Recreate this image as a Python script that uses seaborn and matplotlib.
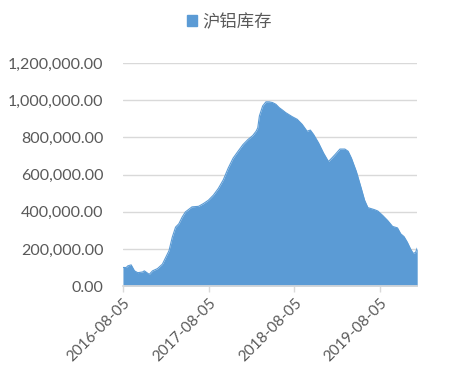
import pandas as pd
import matplotlib
matplotlib.use("Agg")
import matplotlib.pyplot as plt
from matplotlib.ticker import FuncFormatter, MultipleLocator
import seaborn as sns

dates = [
    "2016-08-05", "2016-08-19", "2016-08-26", "2016-09-09", "2016-09-23",
    "2016-10-07", "2016-10-28", "2016-11-04", "2016-11-25", "2016-12-09",
    "2016-12-30", "2017-01-20", "2017-02-03", "2017-02-17", "2017-03-03",
    "2017-03-17", "2017-03-31", "2017-04-14", "2017-04-28", "2017-05-26",
    "2017-06-23", "2017-07-14", "2017-08-04", "2017-08-25", "2017-09-15",
    "2017-10-06", "2017-10-27", "2017-11-17", "2017-12-08", "2017-12-29",
    "2018-01-19", "2018-02-09", "2018-02-23", "2018-03-02", "2018-03-09",
    "2018-03-23", "2018-04-06", "2018-04-20", "2018-05-04", "2018-05-18",
    "2018-06-01", "2018-06-15", "2018-06-29", "2018-07-27", "2018-08-17",
    "2018-09-07", "2018-09-28", "2018-10-12", "2018-10-26", "2018-11-16",
    "2018-12-07", "2018-12-28", "2019-01-11", "2019-01-25", "2019-02-15",
    "2019-03-08", "2019-03-22", "2019-04-05", "2019-04-26", "2019-05-17",
    "2019-05-31", "2019-06-14", "2019-07-12", "2019-07-26", "2019-08-16",
    "2019-09-06", "2019-09-27", "2019-10-18", "2019-11-01", "2019-11-15",
    "2019-11-29", "2019-12-13", "2019-12-24", "2020-01-03", "2020-01-10",
]
stock = [
    100000, 100000, 109000, 114000, 82000,
    72000, 76000, 82000, 63000, 82000,
    94000, 118000, 154000, 190000, 263000,
    317000, 335000, 371000, 399000, 426000,
    429000, 444000, 462000, 489000, 525000,
    571000, 634000, 688000, 725000, 761000,
    788000, 810000, 833000, 851000, 915000,
    969000, 991000, 991000, 987000, 978000,
    960000, 947000, 933000, 911000, 897000,
    870000, 833000, 839000, 815000, 770000,
    716000, 670000, 688000, 707000, 737000,
    737000, 725000, 688000, 616000, 525000,
    462000, 422000, 411000, 404000, 380000,
    353000, 321000, 313000, 281000, 266000,
    236000, 199000, 176000, 181000, 205000,
]
tick_dates = ["2016-08-05", "2017-08-05", "2018-08-05", "2019-08-05"]
series_name = "沪铝库存"

df = pd.DataFrame({"date": pd.to_datetime(dates), "stock": stock})

sns.set_theme(style="white")
plt.rcParams["font.family"] = ["Lato", "Noto Sans CJK SC", "DejaVu Sans"]

fig = plt.figure(figsize=(4.52, 3.84), dpi=100)
ax = fig.add_axes([0.272, 0.255, 0.651, 0.581])

blue = "#5B9BD5"
grey_txt = "#595959"
grid_c = "#D9D9D9"

# area: outline via seaborn, fill underneath
sns.lineplot(data=df, x="date", y="stock", ax=ax, color=blue, linewidth=0.8)
ax.fill_between(df["date"], df["stock"], 0, color=blue, linewidth=0, label=series_name)

ax.set_xlim(df["date"].iloc[0], df["date"].iloc[-1])
ax.set_ylim(0, 1200000)
ax.yaxis.set_major_locator(MultipleLocator(200000))
ax.yaxis.set_major_formatter(FuncFormatter(lambda v, p: f"{v:,.2f}"))
ax.grid(axis="y", color=grid_c, linewidth=1)
ax.set_axisbelow(True)

ticks = pd.to_datetime(tick_dates)
ax.set_xticks(ticks)
ax.set_xticklabels([t.strftime("%Y-%m-%d") for t in ticks], rotation=45,
                   ha="right", rotation_mode="anchor")
ax.xaxis.set_tick_params(which="major", direction="out", length=4,
                         color=grid_c, width=1, bottom=True)

for s in ["left", "right", "top"]:
    ax.spines[s].set_visible(False)
ax.spines["bottom"].set_color(grid_c)

ax.tick_params(axis="y", length=0, labelsize=11.5, labelcolor=grey_txt, pad=14)
ax.tick_params(axis="x", labelsize=11, labelcolor=grey_txt, pad=3)
ax.set_xlabel("")
ax.set_ylabel("")

fig.legend(handles=[plt.Rectangle((0, 0), 1, 1, color=blue)], labels=[series_name],
           loc="center", bbox_to_anchor=(0.507, 0.943), frameon=False,
           handlelength=0.6, handleheight=0.6, handletextpad=0.3,
           prop={"family": ["Noto Sans CJK SC"], "size": 12.5}, labelcolor=grey_txt)

fig.savefig("out.png", dpi=100)
